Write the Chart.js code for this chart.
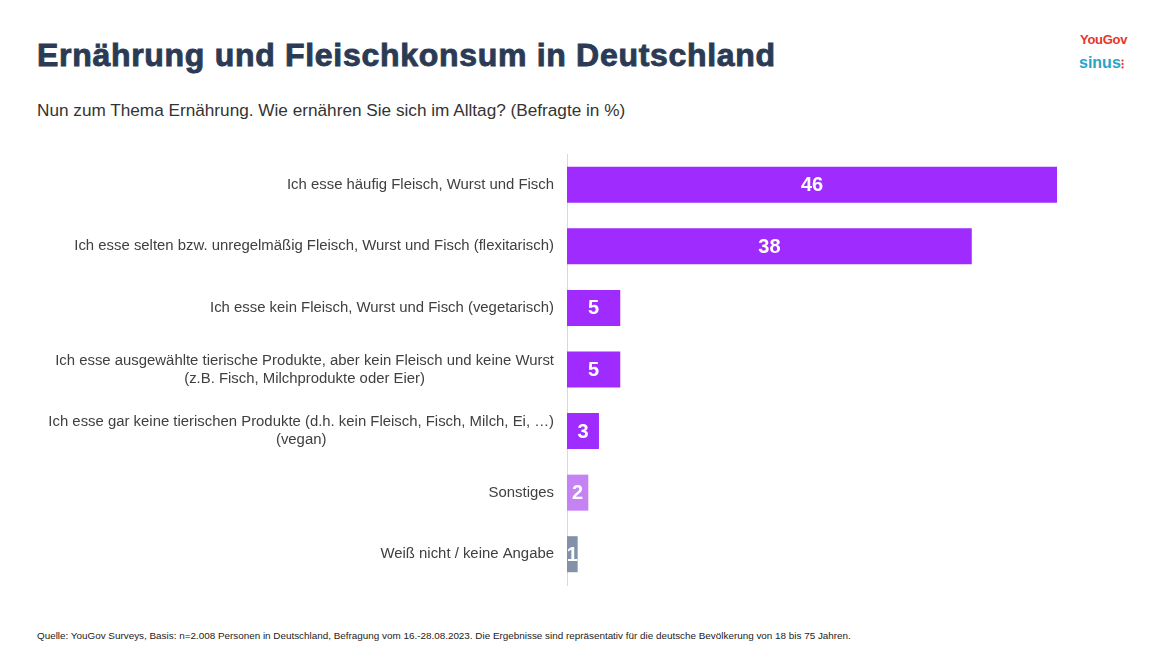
<!DOCTYPE html>
<html>
<head>
<meta charset="utf-8">
<script src="https://cdn.jsdelivr.net/npm/chart.js@4.4.0/dist/chart.umd.min.js"></script>
<style>
  html, body { margin: 0; padding: 0; background: #fff; }
  body { width: 1157px; height: 651px; position: relative; overflow: hidden; font-family: "Liberation Sans", Arial, sans-serif; }
  #title { position: absolute; left: 37px; top: 37px; font-size: 32px; font-weight: bold; color: #2b3a55; white-space: nowrap; letter-spacing: 0.7px; -webkit-text-stroke: 0.9px #2b3a55; }
  #subtitle { position: absolute; left: 37px; top: 100px; font-size: 17.2px; color: #333; white-space: nowrap; }
  #footer { position: absolute; left: 37px; top: 630px; font-size: 9.9px; color: #222; white-space: nowrap; }
  #logo1 { position: absolute; left: 1080px; top: 32px; font-size: 13px; font-weight: bold; color: #e8332a; letter-spacing: -0.3px; }
  #logo2 { position: absolute; left: 1079px; top: 54px; font-size: 16px; font-weight: bold; color: #2aa3c8; }
  #wrap { position: absolute; left: 0; top: 0; width: 1157px; height: 651px; }
</style>
</head>
<body>
<div id="title">Ernährung und Fleischkonsum in Deutschland</div>
<div id="subtitle">Nun zum Thema Ernährung. Wie ernähren Sie sich im Alltag? (Befragte in %)</div>
<div id="logo1">YouGov</div>
<div id="logo2">sinus<span style="color:#e8332a;font-size:12px">⁝</span></div>
<div id="footer">Quelle: YouGov Surveys, Basis: n=2.008 Personen in Deutschland, Befragung vom 16.-28.08.2023. Die Ergebnisse sind repräsentativ für die deutsche Bevölkerung von 18 bis 75 Jahren.</div>
<div id="wrap"><canvas id="chart"></canvas></div>
<script>
// categories and values (Befragte in %)
var categories = [
    "Ich esse häufig Fleisch, Wurst und Fisch",
    "Ich esse selten bzw. unregelmäßig Fleisch, Wurst und Fisch (flexitarisch)",
    "Ich esse kein Fleisch, Wurst und Fisch (vegetarisch)",
    ["Ich esse ausgewählte tierische Produkte, aber kein Fleisch und keine Wurst", "(z.B. Fisch, Milchprodukte oder Eier)"],
    ["Ich esse gar keine tierischen Produkte (d.h. kein Fleisch, Fisch, Milch, Ei, …)", "(vegan)"],
    "Sonstiges",
    "Weiß nicht / keine Angabe"
];
var values = [46, 38, 5, 5, 3, 2, 1];
var barColors = ["#a02bfe", "#a02bfe", "#a02bfe", "#a02bfe", "#a02bfe", "#c482f3", "#8391a9"];

// category labels: right-aligned block, lines centred inside the block
var labelPlugin = {
    id: 'catLabels',
    afterDraw: function (chart) {
        var c = chart.ctx;
        var yScale = chart.scales.y;
        var right = chart.chartArea.left - 13;
        c.save();
        c.font = '14.9px "Liberation Sans", Arial, sans-serif';
        c.fillStyle = '#404040';
        c.textBaseline = 'middle';
        c.textAlign = 'center';
        categories.forEach(function (lab, i) {
            var lines = Array.isArray(lab) ? lab : [lab];
            var w = 0;
            lines.forEach(function (l) { w = Math.max(w, c.measureText(l).width); });
            var cx = right - w / 2;
            var yc = yScale.getPixelForValue(i);
            var lh = 18;
            var y0 = yc - (lines.length - 1) * lh / 2;
            lines.forEach(function (l, k) { c.fillText(l, cx, y0 + k * lh); });
        });
        c.restore();
    }
};

// value labels inside the bars
var valuePlugin = {
    id: 'valLabels',
    afterDatasetsDraw: function (chart) {
        var c = chart.ctx;
        var meta = chart.getDatasetMeta(0);
        c.save();
        c.font = 'bold 20px "Liberation Sans", Arial, sans-serif';
        c.fillStyle = '#ffffff';
        c.textAlign = 'center';
        c.textBaseline = 'middle';
        meta.data.forEach(function (bar, i) {
            c.fillText(String(values[i]), (bar.x + bar.base) / 2, bar.y + 1);
        });
        c.restore();
    }
};

var ctx = document.getElementById('chart').getContext('2d');
var myChart = new Chart(ctx, {
    type: 'bar',
    data: {
        labels: categories,
        datasets: [{
            data: values,
            backgroundColor: barColors,
            borderWidth: 0,
            categoryPercentage: 1,
            barPercentage: 0.585
        }]
    },
    options: {
        indexAxis: 'y',
        responsive: true,
        maintainAspectRatio: false,
        animation: false,
        layout: { padding: { left: 567, right: 100, top: 154, bottom: 66 } },
        plugins: { legend: { display: false }, tooltip: { enabled: false } },
        scales: {
            x: { display: false, min: 0, max: 46 },
            y: {
                grid: { display: false, drawTicks: false },
                border: { display: true, color: '#d9d9d9', width: 1 },
                ticks: { display: false }
            }
        }
    },
    plugins: [labelPlugin, valuePlugin]
});
</script>
</body>
</html>
